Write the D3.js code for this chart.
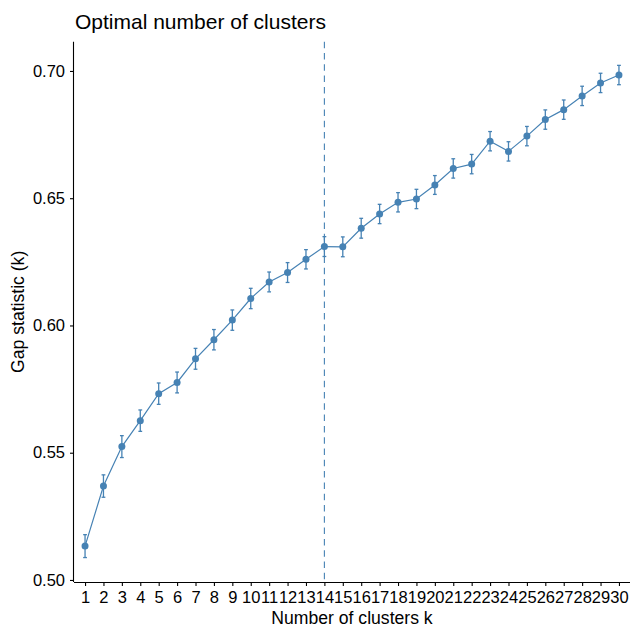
<!DOCTYPE html>
<html>
<head>
<meta charset="utf-8">
<script src="https://cdn.jsdelivr.net/npm/d3@7"></script>
<style>
  body { margin: 0; background: #fff; }
  text { font-family: "Liberation Sans", Arial, sans-serif; fill: #000; }
</style>
</head>
<body>
<div id="chart"></div>
<script>
// k values, gap statistic and its standard error
var clusters = d3.range(1, 31);
var gap = [0.5133, 0.5369, 0.5524, 0.5626, 0.5732, 0.5776, 0.5869, 0.5944, 0.6021, 0.6106,
           0.6171, 0.6208, 0.6260, 0.6310, 0.6309, 0.6382, 0.6438, 0.6484, 0.6497, 0.6552,
           0.6617, 0.6634, 0.6724, 0.6684, 0.6744, 0.6809, 0.6848, 0.6902, 0.6953, 0.6984];
var se = [0.0045, 0.0044, 0.0043, 0.0042, 0.0042, 0.0041, 0.0041, 0.0040, 0.0040, 0.0040,
          0.0039, 0.0039, 0.0038, 0.0039, 0.0039, 0.0039, 0.0038, 0.0038, 0.0038, 0.0037,
          0.0038, 0.0038, 0.0038, 0.0038, 0.0038, 0.0038, 0.0038, 0.0038, 0.0038, 0.0038];
var yTicks = [0.50, 0.55, 0.60, 0.65, 0.70];
var optimalK = 14;
var title = 'Optimal number of clusters';
var xTitle = 'Number of clusters k';
var yTitle = 'Gap statistic (k)';

var w = 630, h = 628;
var pLeft = 74, pRight = 630, pTop = 41.7, pBottom = 582;
var color = 'steelblue';

var svg = d3.select('#chart').append('svg').attr('width', w).attr('height', h);

var data = clusters.map(function(k, i){ return {k: k, gap: gap[i], se: se[i]}; });

// discrete axis with ggplot-like padding of 0.6 units on each side
var xScale = d3.scalePoint().domain(clusters).range([pLeft, pRight]).padding(0.6);
var yScale = d3.scaleLinear().domain([0.4992, 0.7115]).range([pBottom, pTop]);

// title
svg.append('text')
    .attr('x', pLeft + 1).attr('y', 28.5)
    .style('font-size', '21px')
    .text(title);

// dashed line at optimal k
svg.append('line')
    .attr('x1', xScale(optimalK)).attr('x2', xScale(optimalK))
    .attr('y1', pTop).attr('y2', pBottom)
    .attr('stroke', color).attr('stroke-width', 1.1)
    .attr('stroke-dasharray', '6.5,4.8');

// line connecting points
var line = d3.line().x(function(d){ return xScale(d.k); }).y(function(d){ return yScale(d.gap); });
svg.append('path').datum(data)
    .attr('d', line)
    .attr('fill', 'none').attr('stroke', color).attr('stroke-width', 1.2);

// error bars
var cap = 1.9;
var eb = svg.append('g').attr('stroke', color).attr('stroke-width', 1.3);
eb.selectAll('line.v').data(data).enter().append('line')
    .attr('x1', function(d){ return xScale(d.k); })
    .attr('x2', function(d){ return xScale(d.k); })
    .attr('y1', function(d){ return yScale(d.gap - d.se); })
    .attr('y2', function(d){ return yScale(d.gap + d.se); });
eb.selectAll('line.top').data(data).enter().append('line')
    .attr('x1', function(d){ return xScale(d.k) - cap; })
    .attr('x2', function(d){ return xScale(d.k) + cap; })
    .attr('y1', function(d){ return yScale(d.gap + d.se); })
    .attr('y2', function(d){ return yScale(d.gap + d.se); });
eb.selectAll('line.bot').data(data).enter().append('line')
    .attr('x1', function(d){ return xScale(d.k) - cap; })
    .attr('x2', function(d){ return xScale(d.k) + cap; })
    .attr('y1', function(d){ return yScale(d.gap - d.se); })
    .attr('y2', function(d){ return yScale(d.gap - d.se); });

// points
svg.selectAll('circle').data(data).enter().append('circle')
    .attr('cx', function(d){ return xScale(d.k); })
    .attr('cy', function(d){ return yScale(d.gap); })
    .attr('r', 3.5)
    .attr('fill', color);

// axes
var xAxis = d3.axisBottom(xScale).tickSize(4).tickPadding(5);
var gx = svg.append('g')
    .attr('transform', 'translate(0,' + pBottom + ')')
    .call(xAxis);
var yAxis = d3.axisLeft(yScale).tickValues(yTicks).tickFormat(d3.format('.2f')).tickSize(4).tickPadding(5);
var gy = svg.append('g')
    .attr('transform', 'translate(' + pLeft + ',0)')
    .call(yAxis);

[gx, gy].forEach(function(g){
    g.attr('font-size', null).attr('font-family', null);
    g.select('.domain').attr('stroke', '#000').attr('stroke-width', 1.1);
    g.selectAll('.tick line').attr('stroke', '#000').attr('stroke-width', 1.1);
    g.selectAll('.tick text').style('font-size', '16.5px').attr('fill', '#000');
});
// plain axis lines without outer ticks (ggplot style)
gx.select('.domain').attr('d', 'M' + pLeft + ',0.5H' + pRight);
gy.select('.domain').attr('d', 'M-0.5,' + pTop + 'V' + pBottom);

// axis titles
svg.append('text')
    .attr('x', (pLeft + pRight) / 2).attr('y', 624)
    .attr('text-anchor', 'middle')
    .style('font-size', '17.6px')
    .text(xTitle);
svg.append('text')
    .attr('transform', 'translate(24,' + ((pTop + pBottom) / 2) + ') rotate(-90)')
    .attr('text-anchor', 'middle')
    .style('font-size', '17.6px')
    .text(yTitle);
</script>
</body>
</html>
